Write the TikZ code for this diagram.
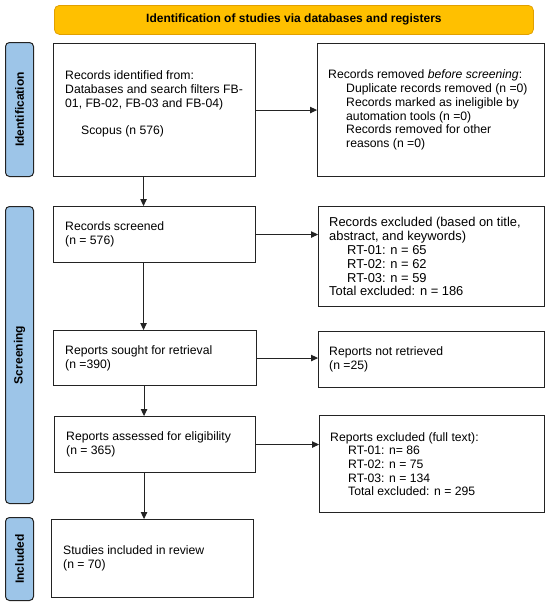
\documentclass[tikz,border=0pt]{standalone}
\usepackage{fontspec}
\setmainfont{Liberation Sans}
\usetikzlibrary{arrows.meta,calc}
\definecolor{bannerfill}{RGB}{255,192,0}
\definecolor{bannerline}{RGB}{225,160,0}
\definecolor{barfill}{RGB}{157,197,232}
\definecolor{lineblack}{RGB}{35,35,35}
\begin{document}
\begin{tikzpicture}[x=1pt,y=-1pt,
  box/.style={draw=lineblack, line width=1.1pt, fill=white, inner sep=0pt, anchor=north west},
  sidebar/.style={draw=lineblack, line width=1pt, fill=barfill, rounded corners=4pt, inner sep=0pt, anchor=north west},
  txt/.style={anchor=west, align=left, inner sep=0pt, font=\fontsize{12.2}{13.7}\selectfont},
  bigtxt/.style={txt, font=\fontsize{12.9}{13.9}\selectfont},
  sidelabel/.style={font=\bfseries\fontsize{12}{14}\selectfont, rotate=90, inner sep=0pt},
  arr/.style={-{Triangle[length=7pt,width=6.5pt]}, line width=1pt, draw=lineblack}]
\useasboundingbox (0,0) rectangle (550,603);

% banner
\node[anchor=north west, minimum width=479pt, minimum height=29pt, inner sep=0pt,
      fill=bannerfill, draw=bannerline, line width=0.8pt, rounded corners=5pt,
      font=\bfseries\fontsize{12}{14}\selectfont] (banner) at (54,5)
      {Identification of studies via databases and registers};

% side bars
\node[sidebar, minimum width=28pt, minimum height=134pt] (idbar) at (5,42) {};
\node[sidelabel] (idlbl) at (idbar.center) {Identification};
\node[sidebar, minimum width=28pt, minimum height=297pt] (scrbar) at (5,206) {};
\node[sidelabel] (scrlbl) at (scrbar.center) {Screening};
\node[sidebar, minimum width=28pt, minimum height=83pt] (incbar) at (5,517) {};
\node[sidelabel] (inclbl) at (incbar.center) {Included};

% boxes
\node[box, minimum width=202pt, minimum height=133pt] (b1) at (53,43) {};
\node[box, minimum width=227pt, minimum height=133pt] (b2) at (317,43) {};
\node[box, minimum width=202pt, minimum height=56pt] (b3) at (53,206) {};
\node[box, minimum width=226pt, minimum height=100pt] (b4) at (318,206) {};
\node[box, minimum width=203pt, minimum height=55pt] (b5) at (53,330) {};
\node[box, minimum width=226pt, minimum height=56pt] (b6) at (318,331) {};
\node[box, minimum width=201pt, minimum height=56pt] (b7) at (54,416) {};
\node[box, minimum width=225pt, minimum height=97pt] (b8) at (319,415) {};
\node[box, minimum width=202pt, minimum height=78pt] (b9) at (51,519) {};

% texts
\node[txt] (t1) at ([xshift=12pt,yshift=6pt]b1.west)
  {Records identified from:\\Databases and search filters FB-\\01, FB-02, FB-03 and FB-04)\\[13.7pt]\hspace*{16pt}Scopus (n 576)};
\node[txt] (t2) at ([xshift=11pt]b2.west)
  {Records removed \textit{before screening}:\\
   \hspace*{18pt}Duplicate records removed (n =0)\\
   \hspace*{18pt}Records marked as ineligible by\\
   \hspace*{18pt}automation tools (n =0)\\
   \hspace*{18pt}Records removed for other\\
   \hspace*{18pt}reasons (n =0)};
\node[txt] (t3) at ([xshift=12pt]b3.west) {Records screened\\(n = 576)};
\node[bigtxt] (t4) at ([xshift=11pt]b4.west)
  {Records excluded (based on title,\\abstract, and keywords)\\
   \hspace*{18pt}RT-01: n = 65\\
   \hspace*{18pt}RT-02: n = 62\\
   \hspace*{18pt}RT-03: n = 59\\
   Total excluded: n = 186};
\node[txt] (t5) at ([xshift=12pt]b5.west) {Reports sought for retrieval\\(n =390)};
\node[txt] (t6) at ([xshift=11pt]b6.west) {Reports not retrieved\\(n =25)};
\node[txt] (t7) at ([xshift=12pt]b7.west) {Reports assessed for eligibility\\(n = 365)};
\node[txt] (t8) at ([xshift=11pt]b8.west)
  {Reports excluded (full text):\\
   \hspace*{18pt}RT-01: n= 86\\
   \hspace*{18pt}RT-02: n = 75\\
   \hspace*{18pt}RT-03: n = 134\\
   \hspace*{18pt}Total excluded: n = 295};
\node[txt] (t9) at ([xshift=12pt]b9.west) {Studies included in review\\(n = 70)};

% horizontal arrows
\draw[arr] (b1) -- (b2);
\draw[arr] (b3.east) -- (b3.east -| b4.west);
\draw[arr] (b5.east) -- (b5.east -| b6.west);
\draw[arr] (b7.east) -- (b7.east -| b8.west);

% vertical arrows
\draw[arr] ([xshift=-11pt]b1.south) -- ([xshift=-11pt]b1.south |- b3.north);
\draw[arr] ([xshift=-11pt]b3.south) -- ([xshift=-11pt]b3.south |- b5.north);
\draw[arr] ([xshift=-11pt]b5.south) -- ([xshift=-11pt]b5.south |- b7.north);
\draw[arr] ([xshift=-11pt]b7.south) -- ([xshift=-11pt]b7.south |- b9.north);
\end{tikzpicture}
\end{document}
